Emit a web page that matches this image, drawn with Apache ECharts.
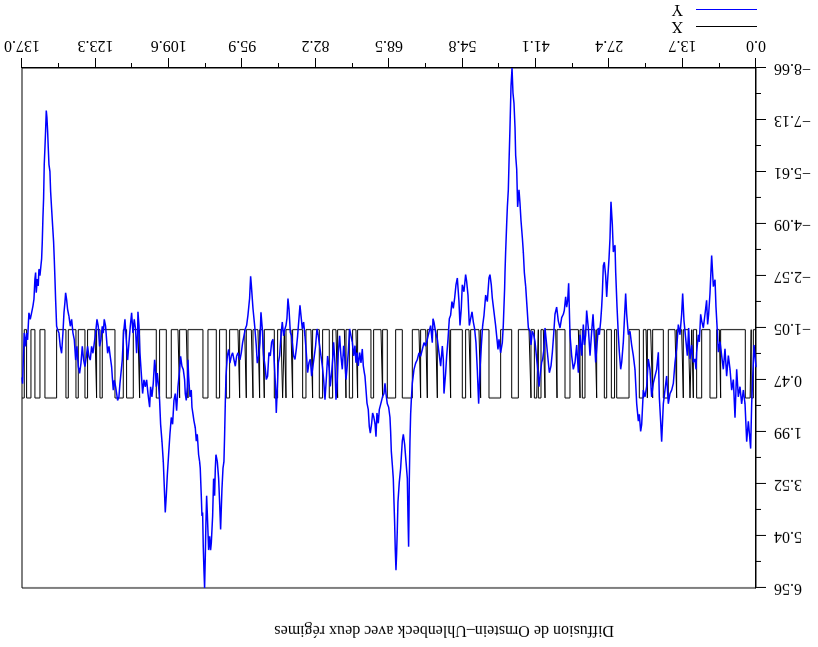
<!DOCTYPE html>
<html><head><meta charset="utf-8">
<script src="https://cdn.jsdelivr.net/npm/echarts@6/dist/echarts.min.js"></script>
<style>
html,body{margin:0;padding:0;background:#fff;overflow:hidden;}
#wrap{width:818px;height:647px;transform:rotate(180deg);transform-origin:50% 50%;}
#chart{width:818px;height:647px;}
</style>
</head><body><div id="wrap"><div id="chart"></div></div>
<script>
const titleText = 'Diffusion de Ornstein–Uhlenbeck avec deux régimes';
const seriesNames = ['X', 'Y'];
const xAxisMin = 0, xAxisMax = 137, xAxisStep = 13.7;
const yAxisMin = -8.656, yAxisMax = 6.559, yAxisStep = 1.5215;

const yTime = [0.00,0.37,0.81,1.00,1.43,1.74,2.05,2.36,2.68,2.99,3.30,3.61,3.92,4.23,4.54,4.85,5.16,5.48,5.79,6.10,6.41,6.72,7.03,7.22,7.47,7.65,7.96,8.28,8.59,8.84,9.03,9.22,9.52,9.83,10.14,10.33,10.58,10.77,11.08,11.20,11.39,11.70,12.01,12.32,12.57,12.82,13.07,13.44,13.69,13.88,14.19,14.50,14.81,15.12,15.43,15.74,16.05,16.37,16.68,16.99,17.30,17.61,17.80,18.05,18.23,18.54,18.85,19.16,19.48,19.79,20.10,20.41,20.72,21.03,21.34,21.53,21.78,21.96,22.27,22.59,22.90,23.21,23.52,
23.83,24.14,24.33,24.58,24.76,25.07,25.26,25.51,25.70,25.94,26.19,26.32,26.63,26.82,27.07,27.25,27.44,27.69,27.87,28.06,28.31,28.50,28.68,28.81,28.99,29.24,29.43,29.68,29.93,30.17,30.42,30.67,30.98,31.30,31.61,31.79,32.04,32.23,32.54,32.85,33.16,33.47,33.78,34.10,34.41,34.72,34.97,35.15,35.34,35.53,35.78,35.96,36.27,36.58,36.90,37.21,37.52,37.77,38.01,38.26,38.57,38.76,39.07,39.38,39.57,39.82,40.01,40.32,40.50,40.75,40.94,41.25,41.50,41.75,42.00,42.18,42.49,42.74,42.99,43.24,43.43,43.61,43.86,44.05,44.24,44.49,44.67,44.86,44.98,45.17,45.36,45.54,45.73,45.92,46.10,46.23,46.41,46.54,46.73,46.85,
46.92,47.17,47.35,47.67,47.97,48.16,48.41,48.60,48.91,49.22,49.41,49.66,49.84,50.15,50.46,50.77,51.02,51.27,51.52,51.77,52.02,52.27,52.52,52.76,53.01,53.26,53.51,53.76,54.01,54.20,54.51,54.82,55.01,55.25,55.44,55.75,56.00,56.25,56.50,56.75,57.00,57.24,57.49,57.74,57.93,58.24,58.36,58.55,58.86,59.17,59.48,59.80,60.11,60.29,60.42,60.73,61.04,61.35,61.66,61.97,62.28,62.60,62.91,63.22,63.53,63.84,64.15,64.34,64.46,64.59,64.71,64.77,64.84,64.96,65.08,65.33,65.58,65.83,66.02,66.33,66.58,66.83,66.95,67.08,67.20,67.33,67.45,67.57,67.70,67.88,68.07,68.20,68.32,68.57,68.82,69.07,69.25,69.44,
69.69,70.00,70.31,70.50,70.75,70.93,71.12,71.37,71.56,71.74,71.99,72.18,72.37,72.61,72.80,72.99,73.11,73.30,73.49,73.73,73.98,74.23,74.48,74.67,74.85,75.10,75.35,75.60,75.85,76.10,76.35,76.53,76.72,76.97,77.22,77.47,77.72,77.96,78.21,78.40,78.59,78.84,79.02,79.21,79.46,79.65,79.96,80.21,80.45,80.70,80.95,81.20,81.45,81.70,81.95,82.20,82.44,82.69,82.94,83.19,83.44,83.69,83.94,84.19,84.44,84.68,84.93,85.12,85.31,85.56,85.80,86.05,86.30,86.49,86.68,86.92,87.17,87.36,87.55,87.73,87.92,88.17,88.42,88.67,88.92,89.16,89.41,89.54,89.66,89.91,90.16,90.41,90.66,90.91,91.16,91.40,91.65,91.90,92.15,92.40,
92.59,92.84,93.09,93.27,93.58,93.89,94.20,94.33,94.52,94.83,95.08,95.33,95.57,95.82,96.07,96.32,96.69,96.94,97.19,97.44,97.69,97.94,98.19,98.44,98.68,98.93,99.06,99.18,99.31,99.49,99.68,99.93,100.12,100.30,100.55,100.80,100.92,101.05,101.24,101.42,101.67,101.80,101.98,102.17,102.42,102.54,102.67,102.79,102.92,103.04,103.17,103.29,103.41,103.54,103.73,103.85,104.04,104.16,104.29,104.47,104.66,104.91,105.09,105.28,105.41,105.65,105.90,106.03,106.15,106.34,106.53,106.65,106.90,107.15,107.40,107.58,107.89,108.14,108.39,108.64,108.89,109.14,109.39,109.64,109.88,110.07,110.26,110.38,110.63,110.88,111.13,111.32,111.50,111.75,111.94,112.12,112.25,112.50,112.75,113.00,113.18,113.49,113.74,113.99,114.24,114.49,114.74,114.99,115.17,115.36,
115.42,115.61,115.80,116.05,116.30,116.54,116.79,117.04,117.29,117.54,117.79,118.04,118.29,118.53,118.72,118.91,119.16,119.34,119.53,119.78,119.96,120.15,120.28,120.53,120.77,121.02,121.21,121.40,121.65,121.83,122.02,122.27,122.52,122.77,123.01,123.26,123.51,123.76,124.01,124.26,124.51,124.76,125.00,125.25,125.50,125.75,126.00,126.25,126.50,126.75,126.99,127.24,127.49,127.74,127.99,128.24,128.49,128.68,128.86,128.99,129.17,129.36,129.61,129.86,130.11,130.36,130.54,130.73,130.85,130.98,131.10,131.29,131.48,131.66,131.79,131.97,132.10,132.22,132.35,132.47,132.60,132.72,132.85,132.97,133.10,133.22,133.34,133.47,133.65,133.84,133.97,134.15,134.34,134.46,134.59,134.77,134.96,135.21,135.46,135.71,135.96,136.14,136.33,136.58,136.76,136.89,137.00];

const yValue = [0.10,-0.55,1.17,2.48,1.68,2.28,1.17,0.77,1.17,0.67,0.97,0.16,1.58,0.46,0.77,0.16,-0.24,0.36,-0.44,0.16,-0.24,-0.65,-0.34,-0.95,-1.66,-2.46,-2.26,-3.17,-2.06,-1.45,-1.15,-1.86,-1.45,-1.05,-1.25,-1.45,-0.64,-0.85,-0.34,0.16,-0.14,-0.04,-0.55,-0.14,-1.05,-0.24,-0.65,-1.25,-2.06,-1.45,-0.85,-1.15,-0.45,-0.04,0.57,0.77,0.87,1.17,0.36,0.77,1.17,2.28,1.68,0.97,-0.34,0.16,0.36,0.56,0.97,0.16,-0.14,0.67,0.97,0.77,1.78,1.98,1.48,1.68,1.17,0.16,-0.24,-0.55,-0.95,
-0.85,-1.45,-2.06,-1.25,-0.65,-0.04,0.16,-0.34,-0.85,-1.66,-2.67,-3.47,-3.27,-4.08,-4.74,-3.68,-3.07,-2.46,-1.96,-2.57,-2.97,-2.87,-2.06,-1.66,-1.25,-0.85,-1.05,-0.55,-0.04,-0.75,-1.45,-0.95,-0.24,-1.05,-1.56,-0.85,-0.55,-1.15,-0.24,-0.85,0.26,-0.55,-0.04,0.16,-0.24,-0.85,-2.36,-1.86,-1.66,-1.96,-1.56,-1.45,-1.35,-1.05,-1.25,-1.66,-1.45,-0.85,-0.34,0.06,0.26,-0.04,-0.55,-1.05,-0.44,-0.14,-0.04,0.36,0.67,0.16,-0.14,-0.65,-0.85,-0.95,-0.55,-0.95,-1.05,-1.66,-2.26,-2.67,-3.27,-3.68,-4.18,-4.69,-5.09,-4.59,-5.70,-6.10,-6.91,-7.62,-7.92,-8.656,-8.12,-6.91,-5.90,-5.09,-4.59,-4.08,-3.27,-2.67,
-2.21,-1.12,-0.62,-0.32,-0.72,-0.42,-0.82,-1.12,-1.52,-1.92,-2.31,-2.61,-2.51,-1.82,-2.01,-1.42,-1.12,-0.52,0.17,1.17,0.17,-0.62,-1.02,-1.22,-1.52,-1.32,-1.12,-2.01,-2.41,-2.61,-2.11,-2.31,-1.62,-1.12,-1.82,-2.51,-2.31,-1.92,-1.62,-1.82,-1.42,-1.32,-0.72,-0.22,0.27,0.87,-0.12,-0.52,0.07,-0.32,-0.72,-0.92,-1.22,-1.32,-0.62,-1.12,-0.92,-0.72,-0.52,-0.62,-0.42,-0.22,-0.32,-0.12,-0.02,0.17,0.57,1.07,1.47,2.26,3.36,4.45,5.35,4.45,3.36,2.86,2.36,2.06,2.26,3.06,3.46,4.05,4.85,5.55,6.04,5.45,4.65,4.05,3.36,2.96,2.56,1.97,1.57,1.27,1.17,0.87,0.57,0.87,
0.95,1.15,1.34,1.74,1.44,2.13,1.74,1.54,1.44,1.74,2.03,1.84,1.34,1.15,0.75,0.36,0.26,0.06,-0.43,-0.03,-0.33,0.06,-0.33,-0.03,-0.53,-0.23,-0.63,-0.82,-1.02,-0.33,0.16,0.46,-0.13,-0.53,0.16,-0.23,-0.82,-0.33,0.66,1.05,-0.03,-0.63,-0.13,0.26,0.66,0.16,-0.23,0.46,1.05,0.46,0.06,-0.23,-0.53,-0.82,-1.02,-0.53,-0.23,0.06,0.36,-0.13,-0.03,0.26,-0.33,-0.82,-1.22,-1.02,-1.41,-1.71,-1.32,-0.82,-0.43,-0.13,-0.23,-0.53,-0.82,-0.92,-1.61,-1.91,-1.32,-1.12,-1.02,-0.82,-1.22,-0.82,-0.23,-0.03,0.95,1.44,0.75,-0.03,-0.72,-0.63,-0.23,-0.33,0.36,0.46,0.06,-0.23,-1.02,-1.51,
-0.62,-0.22,-0.02,-0.52,-1.12,-1.62,-2.31,-2.56,-1.92,-1.42,-1.12,-1.02,-0.82,-0.62,-0.32,-0.12,-0.32,-0.22,0.07,-0.12,-0.32,-0.22,-0.02,-0.42,-0.22,0.37,1.17,2.06,2.86,3.06,3.66,4.85,4.05,3.36,2.86,2.66,3.06,3.86,3.36,4.45,5.25,5.45,5.05,5.45,4.35,3.86,4.65,5.65,6.559,6.04,5.35,4.35,4.45,3.86,3.06,2.86,2.66,2.36,2.06,2.26,1.87,1.67,1.47,1.27,0.77,0.97,0.37,-0.12,0.67,1.07,0.87,0.47,0.17,0.07,-0.22,0.17,0.67,1.37,0.87,1.07,1.77,1.57,2.06,2.66,3.26,3.86,4.35,3.86,2.86,2.26,1.77,1.07,0.67,0.27,0.67,0.07,-0.12,0.57,0.97,0.67,1.27,0.87,0.47,0.67,0.47,0.87,0.27,-0.32,-1.12,-1.52,
-0.90,-0.31,-1.00,-1.30,-0.90,-1.49,-1.10,-0.61,-0.11,-0.70,-1.30,-0.90,-0.11,0.28,0.58,0.97,1.07,0.87,0.67,0.48,0.77,0.38,0.08,-0.21,-0.51,-0.31,-0.70,-1.10,-1.30,-0.90,-1.10,-0.70,-0.51,-1.10,-1.30,-0.90,-0.61,-0.31,-0.51,-0.11,-0.21,-0.51,-0.21,0.08,-0.11,-0.51,-0.01,0.28,0.08,-0.51,-0.11,-0.70,-0.90,-1.30,-1.10,-1.39,-1.59,-1.89,-2.08,-1.79,-1.49,-0.90,-0.31,-0.51,-0.90,-1.00,-1.10,-1.89,-2.48,-3.07,-3.56,-4.05,-4.55,-5.04,-5.63,-5.83,-6.32,-6.81,-7.21,-7.41,-6.81,-6.32,-5.83,-4.84,-4.25,-3.56,-3.07,-2.87,-2.58,-2.77,-2.28,-2.48,-2.08,-2.67,-2.48,-1.89,-1.69,-1.49,-1.30,-1.49,-0.70,-0.90,-0.51,-0.90,-0.11,0.58,0.40];

// regime X: -1 by default, +1 on these intervals
const xLow = -1, xHigh = 1;
const xHighStart = [0.5,1.1,6.6,7.34,10.14,11.7,12.32,13.57,14.81,16.37,19.29,20.28,21.03,23.7,26.4,27.87,29.74,31.92,32.85,34.72,37.14,39.38,40.13,40.94,42.0,44.36,47.66,51.4,53.26,54.2,57.0,59.48,61.35,62.6,64.15,67.26,69.69,71.37,74.36,75.29,76.53,78.09,79.02,80.89,82.76,84.0,86.49,87.73,88.36,89.29,91.78,92.65,93.89,95.14,96.38,98.25,100.12,102.29,106.03,107.58,109.14,111.32,115.05,116.23,118.1,122.02,123.08,124.76,126.5,128.36,130.54,133.65,135.33,136.58];
const xHighEnd   = [0.9,2.0,6.85,8.59,11.08,12.0,12.63,13.88,15.12,17.3,19.66,20.53,21.78,26.0,27.0,28.31,30.05,32.42,33.16,35.65,37.39,39.7,40.63,41.37,42.37,45.6,49.84,51.71,53.57,54.82,57.31,59.8,61.66,62.91,66.02,68.82,70.0,71.87,74.67,75.91,76.84,78.4,79.65,81.51,83.07,84.62,86.8,88.04,88.67,89.91,92.09,92.96,94.2,95.45,96.69,98.87,100.74,103.23,106.34,107.89,110.07,111.94,115.36,117.48,119.65,122.45,123.39,125.25,126.93,128.8,132.72,134.59,136.14,137.0];

// build series data (y shifted so that axis ticks start at the axis minimum)
const yData = yTime.map((t, i) => [t, yValue[i] - yAxisMin]);
const xData = [[xAxisMin, xLow - yAxisMin]];
for (let i = 0; i < xHighStart.length; i++) {
  xData.push([xHighStart[i], xHigh - yAxisMin]);
  if (xHighEnd[i] < xAxisMax) xData.push([xHighEnd[i], xLow - yAxisMin]);
}
xData.push([xAxisMax, xData[xData.length - 1][1]]);

const serif = 'Liberation Serif, Times New Roman, serif';
const fmtNum = (v, d) => v.toFixed(d).replace('-', '\u2212');

const chart = echarts.init(document.getElementById('chart'), null, {renderer: 'canvas'});
chart.setOption({
  animation: false,
  backgroundColor: '#fff',
  title: {
    text: titleText, left: 199, top: 4,
    textStyle: {fontFamily: serif, fontSize: 16, fontWeight: 'normal', color: '#000'}
  },
  legend: {
    data: seriesNames, orient: 'vertical', left: 61, bottom: 1, itemGap: 0, padding: 0,
    icon: 'rect', itemWidth: 61, itemHeight: 1,
    textStyle: {fontFamily: serif, fontSize: 16, color: '#000', lineHeight: 17, padding: [0,0,0,8]}
  },
  grid: {left: 62, right: 22, top: 59, bottom: 68, show: true, borderColor: '#000', borderWidth: 1, backgroundColor: 'transparent'},
  xAxis: {
    type: 'value', min: xAxisMin, max: xAxisMax, interval: xAxisStep,
    axisLine: {show: true, lineStyle: {color: '#000', width: 1}},
    axisTick: {show: true, length: 10, lineStyle: {color: '#000'}},
    minorTick: {show: true, splitNumber: 2, length: 5, lineStyle: {color: '#000'}},
    splitLine: {show: false},
    axisLabel: {fontFamily: serif, fontSize: 16, color: '#000', margin: 15, formatter: v => fmtNum(v, 1), showMinLabel: true, showMaxLabel: true}
  },
  yAxis: {
    type: 'value', min: 0, max: yAxisMax - yAxisMin, interval: yAxisStep,
    axisLine: {show: true, onZero: false, lineStyle: {color: '#000', width: 1}},
    axisTick: {show: true, length: 10, lineStyle: {color: '#000'}},
    minorTick: {show: true, splitNumber: 2, length: 5, lineStyle: {color: '#000'}},
    splitLine: {show: false},
    axisLabel: {fontFamily: serif, fontSize: 16, color: '#000', margin: 18, formatter: v => fmtNum(v + yAxisMin, 2), showMinLabel: true, showMaxLabel: true}
  },
  series: [
    {name: seriesNames[0], type: 'line', step: 'end', data: xData, showSymbol: false, symbol: 'none',
     lineStyle: {color: '#000', width: 1}, itemStyle: {color: '#000'}, silent: true, z: 2},
    {name: seriesNames[1], type: 'line', data: yData, showSymbol: false, symbol: 'none',
     lineStyle: {color: '#0000ff', width: 1.5}, itemStyle: {color: '#0000ff'}, silent: true, z: 3}
  ]
});
</script>
</body></html>
